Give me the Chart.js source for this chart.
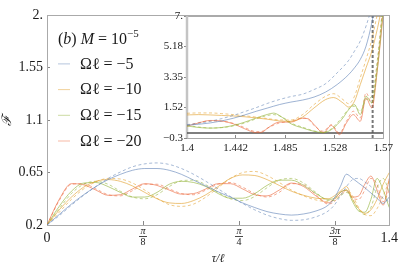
<!DOCTYPE html>
<html>
<head>
<meta charset="utf-8">
<script src="https://cdn.jsdelivr.net/npm/chart.js@4.4.0/dist/chart.umd.min.js"></script>
<style>
  html, body { margin: 0; padding: 0; background: #fff; overflow: hidden; }
  #wrap { position: relative; width: 407px; height: 266px; }
  #mainChart { position: absolute; left: 0; top: 0; }
  #insetChart { position: absolute; left: 150px; top: 5px; }
</style>
</head>
<body>
<div id="wrap">
  <canvas id="mainChart" width="407" height="266"></canvas>
  <canvas id="insetChart" width="250" height="155"></canvas>
</div>
<script>
// ---- main panel data (tau / l on x) ----
const mainTau = [0, 0.05, 0.1, 0.15, 0.2, 0.25, 0.3, 0.35, 0.4, 0.45, 0.5, 0.55, 0.6, 0.65, 0.7, 0.75, 0.8, 0.85, 0.9, 0.95, 1.0, 1.05, 1.1, 1.15,
                 1.175, 1.2, 1.225, 1.25, 1.275, 1.3, 1.325, 1.35, 1.375, 1.4];
const mainM5 = [0.2, 0.29, 0.38, 0.46, 0.53, 0.59, 0.635, 0.67, 0.685, 0.685, 0.67, 0.635, 0.585, 0.535, 0.485, 0.44, 0.39, 0.35, 0.315, 0.295, 0.285, 0.295, 0.32, 0.37,
                0.43, 0.53, 0.636, 0.6, 0.56, 0.52, 0.475, 0.43, 0.385, 0.44];
const mainM5Dash = [0.2, 0.28, 0.37, 0.455, 0.53, 0.6, 0.655, 0.7, 0.725, 0.733, 0.72, 0.685, 0.635, 0.575, 0.51, 0.445, 0.385, 0.33, 0.285, 0.255, 0.24, 0.245, 0.27, 0.32,
                    0.37, 0.45, 0.53, 0.59, 0.6, 0.57, 0.53, 0.48, 0.43, 0.4];
const mainM10 = [0.2, 0.33, 0.44, 0.525, 0.575, 0.59, 0.575, 0.535, 0.48, 0.425, 0.39, 0.385, 0.41, 0.46, 0.53, 0.6, 0.63, 0.625, 0.59, 0.54, 0.49, 0.455, 0.43, 0.425,
                 0.45, 0.49, 0.53, 0.42, 0.34, 0.3, 0.33, 0.42, 0.55, 0.65];
const mainM10Dash = [0.2, 0.31, 0.42, 0.51, 0.57, 0.6, 0.595, 0.56, 0.5, 0.43, 0.375, 0.36, 0.38, 0.44, 0.52, 0.6, 0.65, 0.66, 0.625, 0.565, 0.5, 0.45, 0.415, 0.4,
                     0.42, 0.46, 0.5, 0.45, 0.35, 0.29, 0.28, 0.34, 0.45, 0.58];
const mainM15 = [0.2, 0.36, 0.49, 0.56, 0.565, 0.53, 0.48, 0.44, 0.44, 0.48, 0.55, 0.575, 0.565, 0.53, 0.47, 0.43, 0.43, 0.47, 0.54, 0.585, 0.585, 0.54, 0.47, 0.42,
                 0.43, 0.48, 0.5, 0.4, 0.32, 0.31, 0.42, 0.6, 0.5, 0.35];
const mainM15Dash = [0.2, 0.34, 0.47, 0.55, 0.575, 0.55, 0.49, 0.44, 0.425, 0.46, 0.53, 0.58, 0.585, 0.545, 0.48, 0.425, 0.41, 0.445, 0.52, 0.585, 0.6, 0.56, 0.48, 0.41,
                     0.41, 0.45, 0.48, 0.42, 0.33, 0.29, 0.35, 0.52, 0.6, 0.48];
const mainM20 = [0.2, 0.42, 0.555, 0.545, 0.5, 0.455, 0.46, 0.51, 0.555, 0.54, 0.5, 0.465, 0.47, 0.51, 0.555, 0.555, 0.51, 0.46, 0.45, 0.5, 0.56, 0.53, 0.45, 0.39,
                 0.42, 0.48, 0.5, 0.44, 0.45, 0.55, 0.62, 0.5, 0.37, 0.6];
const mainM20Dash = [0.2, 0.41, 0.55, 0.555, 0.51, 0.46, 0.45, 0.495, 0.55, 0.55, 0.51, 0.47, 0.46, 0.5, 0.55, 0.565, 0.525, 0.47, 0.44, 0.48, 0.555, 0.545, 0.46, 0.38,
                     0.4, 0.46, 0.49, 0.43, 0.42, 0.5, 0.6, 0.55, 0.4, 0.5];

const mainXTicks = [0, Math.PI / 8, Math.PI / 4, 3 * Math.PI / 8, 1.4];
const mainXLabels = ['0', ['π', '8'], ['π', '4'], ['3π', '8'], '1.4'];
const mainYTicks = [0.2, 0.65, 1.1, 1.55, 2];
const mainYLabels = ['0.2', '0.65', '1.1', '1.55', '2.'];

const legendLabels = ['Ωℓ = −5', 'Ωℓ = −10', 'Ωℓ = −15', 'Ωℓ = −20'];

// ---- inset data ----
const insetBlueTau = [1.4, 1.41, 1.42, 1.43, 1.44, 1.45, 1.46, 1.47, 1.48, 1.49, 1.5, 1.51, 1.52, 1.53, 1.54, 1.545, 1.55, 1.555, 1.56, 1.565];
const insetM5 = [0.47, 0.52, 0.6, 0.72, 0.88, 1.08, 1.3, 1.5, 1.7, 1.85, 1.97, 2.15, 2.45, 2.9, 3.5, 3.9, 4.4, 5.2, 6.6, 8.5];
const insetM5Dash = [0.5, 0.58, 0.7, 0.86, 1.05, 1.28, 1.52, 1.78, 2.0, 2.18, 2.32, 2.6, 2.95, 3.6, 4.35, 4.9, 5.5, 6.4, 7.6, 9.5];

const insetOrangeTau = [1.4, 1.41, 1.42, 1.43, 1.44, 1.45, 1.46, 1.47, 1.48, 1.49, 1.5, 1.51, 1.52, 1.527, 1.535, 1.54, 1.545, 1.55, 1.555, 1.56, 1.565, 1.57];
const insetM10 = [1.08, 1.1, 1.08, 1.05, 1.02, 0.97, 0.9, 0.82, 0.72, 0.7, 0.95, 1.5, 2.0, 2.12, 1.8, 1.55, 1.9, 2.9, 3.9, 4.9, 6.3, 8];
const insetM10Dash = [1.18, 1.2, 1.2, 1.16, 1.1, 1.03, 0.95, 0.86, 0.78, 0.78, 1.1, 1.7, 2.2, 2.35, 2.0, 1.75, 2.2, 3.3, 4.4, 5.6, 7.2, 9];

const insetGreenTau = [1.4, 1.41, 1.42, 1.43, 1.44, 1.45, 1.46, 1.47, 1.475, 1.48, 1.485, 1.49, 1.5, 1.51, 1.518, 1.525, 1.53, 1.535, 1.54, 1.545, 1.55, 1.555, 1.56, 1.565, 1.57];
const insetM15 = [0.42, 0.33, 0.29, 0.33, 0.45, 0.65, 0.9, 1.12, 1.19, 1.05, 0.8, 0.55, 0.3, 0.1, 0.02, 0.2, 0.5, 0.9, 1.4, 1.7, 1.1, 2.2, 1.8, 4.0, 7.5];
const insetM15Dash = [0.45, 0.36, 0.3, 0.32, 0.42, 0.6, 0.85, 1.05, 1.1, 1.02, 0.85, 0.6, 0.35, 0.12, 0.05, 0.25, 0.6, 1.0, 1.45, 1.6, 1.3, 2.0, 2.2, 4.5, 8];

const insetRedTau = [1.4, 1.41, 1.42, 1.43, 1.44, 1.45, 1.46, 1.465, 1.47, 1.48, 1.49, 1.5, 1.505, 1.51, 1.518, 1.525, 1.532, 1.538, 1.544, 1.55, 1.555, 1.56, 1.565, 1.57];
const insetM20 = [0.4, 0.6, 0.75, 0.72, 0.55, 0.25, 0.02, 0.05, 0.3, 0.65, 0.65, 0.88, 0.85, 0.5, 0.02, 0.45, -0.1, 0.6, 1.1, 0.7, 2.1, 1.5, 3.9, 7.2];
const insetM20Dash = [0.45, 0.62, 0.72, 0.7, 0.58, 0.32, 0.08, 0.1, 0.3, 0.6, 0.7, 0.9, 0.8, 0.45, 0.1, 0.5, 0.0, 0.7, 1.3, 0.9, 2.4, 1.8, 4.3, 8];

const insetMarker = 1.5607;
const insetXTicks = [1.4, 1.442, 1.485, 1.528, 1.57];
const insetXLabels = ['1.4', '1.442', '1.485', '1.528', '1.57'];
const insetYTicks = [-0.3, 1.52, 3.35, 5.18, 7];
const insetYLabels = ['−0.3', '1.52', '3.35', '5.18', '7.'];

// ---- styling ----
const SERIF = "'Liberation Serif', 'DejaVu Serif', serif";
const palette = ['94,129,181', '225,156,36', '143,176,50', '235,98,53'];
const solidColor = i => `rgba(${palette[i]},0.6)`;
const dashColor = i => `rgba(${palette[i]},0.55)`;
const toPoints = (xs, ys) => xs.map((x, i) => ({ x: x, y: ys[i] }));

function buildSeries(tauSets, solids, dashes) {
  const sets = [];
  solids.forEach((ys, i) => {
    sets.push({ data: toPoints(tauSets[i], dashes[i]), borderColor: dashColor(i), borderDash: [3, 2.5] });
    sets.push({ label: legendLabels[i], data: toPoints(tauSets[i], ys), borderColor: solidColor(i) });
  });
  return sets;
}

const framePlugin = {
  id: 'frame',
  beforeDatasetsDraw(chart, args, opts) {
    const { ctx, chartArea: a } = chart;
    ctx.save();
    ctx.strokeStyle = opts.color || '#aaa';
    ctx.lineWidth = 1;
    ctx.strokeRect(Math.round(a.left) + 0.5, Math.round(a.top) + 0.5, Math.round(a.right - a.left), Math.round(a.bottom - a.top));
    if (opts.leftWidth) {
      ctx.strokeStyle = opts.leftColor;
      ctx.lineWidth = opts.leftWidth;
      ctx.beginPath();
      ctx.moveTo(a.left, a.top);
      ctx.lineTo(a.left, a.bottom);
      ctx.stroke();
    }
    ctx.restore();
  }
};

// fraction tick labels (pi/8 ...) under the main x axis
const fractionPlugin = {
  id: 'fractions',
  afterDraw(chart) {
    const { ctx, chartArea: a } = chart;
    const sx = chart.scales.x;
    ctx.save();
    ctx.fillStyle = '#1a1a1a';
    ctx.strokeStyle = '#1a1a1a';
    ctx.lineWidth = 0.8;
    ctx.textAlign = 'center';
    ctx.textBaseline = 'middle';
    mainXTicks.forEach((v, i) => {
      const lab = mainXLabels[i];
      if (!Array.isArray(lab)) return;
      const px = sx.getPixelForValue(v);
      ctx.font = `italic 10px ${SERIF}`;
      ctx.fillText(lab[0], px, a.bottom + 6.5);
      const w = Math.max(ctx.measureText(lab[0]).width, 6) + 2;
      ctx.beginPath();
      ctx.moveTo(px - w / 2, a.bottom + 11.5);
      ctx.lineTo(px + w / 2, a.bottom + 11.5);
      ctx.stroke();
      ctx.font = `10px ${SERIF}`;
      ctx.fillText(lab[1], px, a.bottom + 17);
    });
    ctx.restore();
  }
};

const legendPlugin = {
  id: 'mathLegend',
  afterDraw(chart) {
    const { ctx, chartArea: a } = chart;
    const x0 = a.left + 11;
    ctx.save();
    ctx.fillStyle = '#1a1a1a';
    ctx.textAlign = 'left';
    ctx.textBaseline = 'alphabetic';
    let x = x0;
    const put = (txt, font, y) => { ctx.font = font; ctx.fillText(txt, x, y); x += ctx.measureText(txt).width; };
    const base = a.top + 29;
    put('(', `16px ${SERIF}`, base);
    put('b', `italic 16px ${SERIF}`, base);
    put(') ', `16px ${SERIF}`, base);
    put('M', `italic 16px ${SERIF}`, base);
    put(' = 10', `16px ${SERIF}`, base);
    put('−5', `11px ${SERIF}`, base - 7);

    ctx.textBaseline = 'middle';
    ctx.font = `16px ${SERIF}`;
    legendLabels.forEach((lab, i) => {
      const y = a.top + 48 + i * 25.7;
      ctx.strokeStyle = `rgba(${palette[i]},0.45)`;
      ctx.lineWidth = 1;
      ctx.beginPath();
      ctx.moveTo(x0, y + 0.5);
      ctx.lineTo(x0 + 12, y + 0.5);
      ctx.stroke();
      ctx.fillText(lab, x0 + 22, y + 1);
    });
    ctx.restore();
  }
};

// ---- main chart ----
const mainTauSets = [mainTau, mainTau, mainTau, mainTau];
new Chart(document.getElementById('mainChart'), {
  type: 'line',
  data: {
    datasets: buildSeries(mainTauSets, [mainM5, mainM10, mainM15, mainM20], [mainM5Dash, mainM10Dash, mainM15Dash, mainM20Dash])
  },
  options: {
    responsive: false,
    animation: false,
    layout: { padding: { top: 9, right: 10, left: 0, bottom: 0 } },
    elements: {
      point: { radius: 0 },
      line: { borderWidth: 1, cubicInterpolationMode: 'monotone', fill: false }
    },
    plugins: {
      legend: { display: false },
      tooltip: { enabled: false },
      frame: { color: '#aaa' }
    },
    scales: {
      x: {
        type: 'linear',
        min: 0,
        max: 1.4,
        afterFit: s => { s.height = 41; },
        afterBuildTicks: s => { s.ticks = mainXTicks.map(v => ({ value: v })); },
        grid: { display: true, drawOnChartArea: false, drawTicks: true, tickLength: -4, color: '#888' },
        border: { display: true, color: '#888', width: 1 },
        ticks: {
          autoSkip: false,
          maxRotation: 0,
          padding: 9,
          color: '#1a1a1a',
          font: { family: SERIF, size: 14 },
          callback: (v, i) => Array.isArray(mainXLabels[i]) ? '' : mainXLabels[i]
        },
        title: {
          display: true,
          text: 'τ/ℓ',
          color: '#1a1a1a',
          font: { family: SERIF, size: 12, style: 'italic' },
          padding: { top: 0, bottom: 0 }
        }
      },
      y: {
        type: 'linear',
        min: 0.2,
        max: 2,
        afterFit: s => { s.width = 47; },
        afterBuildTicks: s => { s.ticks = mainYTicks.map(v => ({ value: v })); },
        grid: { display: true, drawOnChartArea: false, drawTicks: true, tickLength: -3, color: '#888' },
        border: { display: true, color: '#888', width: 1 },
        ticks: {
          autoSkip: false,
          padding: 7,
          color: '#1a1a1a',
          font: { family: SERIF, size: 14 },
          callback: (v, i) => mainYLabels[i]
        },
        title: {
          display: true,
          text: 'ℱ',
          color: '#1a1a1a',
          font: { family: SERIF, size: 13, style: 'italic' },
          padding: { top: 0, bottom: 0 }
        }
      }
    }
  },
  plugins: [framePlugin, fractionPlugin, legendPlugin]
});

// ---- inset chart ----
const insetSets = buildSeries(
  [insetBlueTau, insetOrangeTau, insetGreenTau, insetRedTau],
  [insetM5, insetM10, insetM15, insetM20],
  [insetM5Dash, insetM10Dash, insetM15Dash, insetM20Dash]
);
insetSets.push({
  data: [{ x: insetXTicks[0], y: 0 }, { x: insetXTicks[insetXTicks.length - 1], y: 0 }],
  borderColor: '#555', borderWidth: 1.5, cubicInterpolationMode: 'default', tension: 0
});
insetSets.push({
  data: [{ x: insetMarker, y: insetYTicks[0] }, { x: insetMarker, y: insetYTicks[insetYTicks.length - 1] }],
  borderColor: '#777', borderWidth: 2, borderDash: [3, 2], cubicInterpolationMode: 'default', tension: 0
});

new Chart(document.getElementById('insetChart'), {
  type: 'line',
  data: { datasets: insetSets },
  options: {
    responsive: false,
    animation: false,
    layout: { padding: { top: 11, right: 13, left: 0, bottom: 0 } },
    elements: {
      point: { radius: 0 },
      line: { borderWidth: 1, cubicInterpolationMode: 'monotone', fill: false }
    },
    plugins: {
      legend: { display: false },
      tooltip: { enabled: false },
      frame: { color: '#aaa', leftWidth: 2.5, leftColor: '#c4c4c4' }
    },
    scales: {
      x: {
        type: 'linear',
        min: 1.4,
        max: 1.57,
        afterFit: s => { s.height = 22; },
        afterBuildTicks: s => { s.ticks = insetXTicks.map(v => ({ value: v })); },
        grid: { display: true, drawOnChartArea: false, drawTicks: true, tickLength: -3, color: '#888' },
        border: { display: true, color: '#aaa', width: 1 },
        ticks: {
          autoSkip: false,
          maxRotation: 0,
          padding: 7,
          color: '#1a1a1a',
          font: { family: SERIF, size: 11 },
          callback: (v, i) => insetXLabels[i]
        }
      },
      y: {
        type: 'linear',
        min: -0.3,
        max: 7,
        afterFit: s => { s.width = 37; },
        afterBuildTicks: s => { s.ticks = insetYTicks.map(v => ({ value: v })); },
        grid: { display: true, drawOnChartArea: false, drawTicks: true, tickLength: 3, color: '#888' },
        border: { display: true, color: '#c4c4c4', width: 1 },
        ticks: {
          autoSkip: false,
          padding: 1,
          color: '#1a1a1a',
          font: { family: SERIF, size: 11 },
          callback: (v, i) => insetYLabels[i]
        }
      }
    }
  },
  plugins: [framePlugin]
});
</script>
</body>
</html>
